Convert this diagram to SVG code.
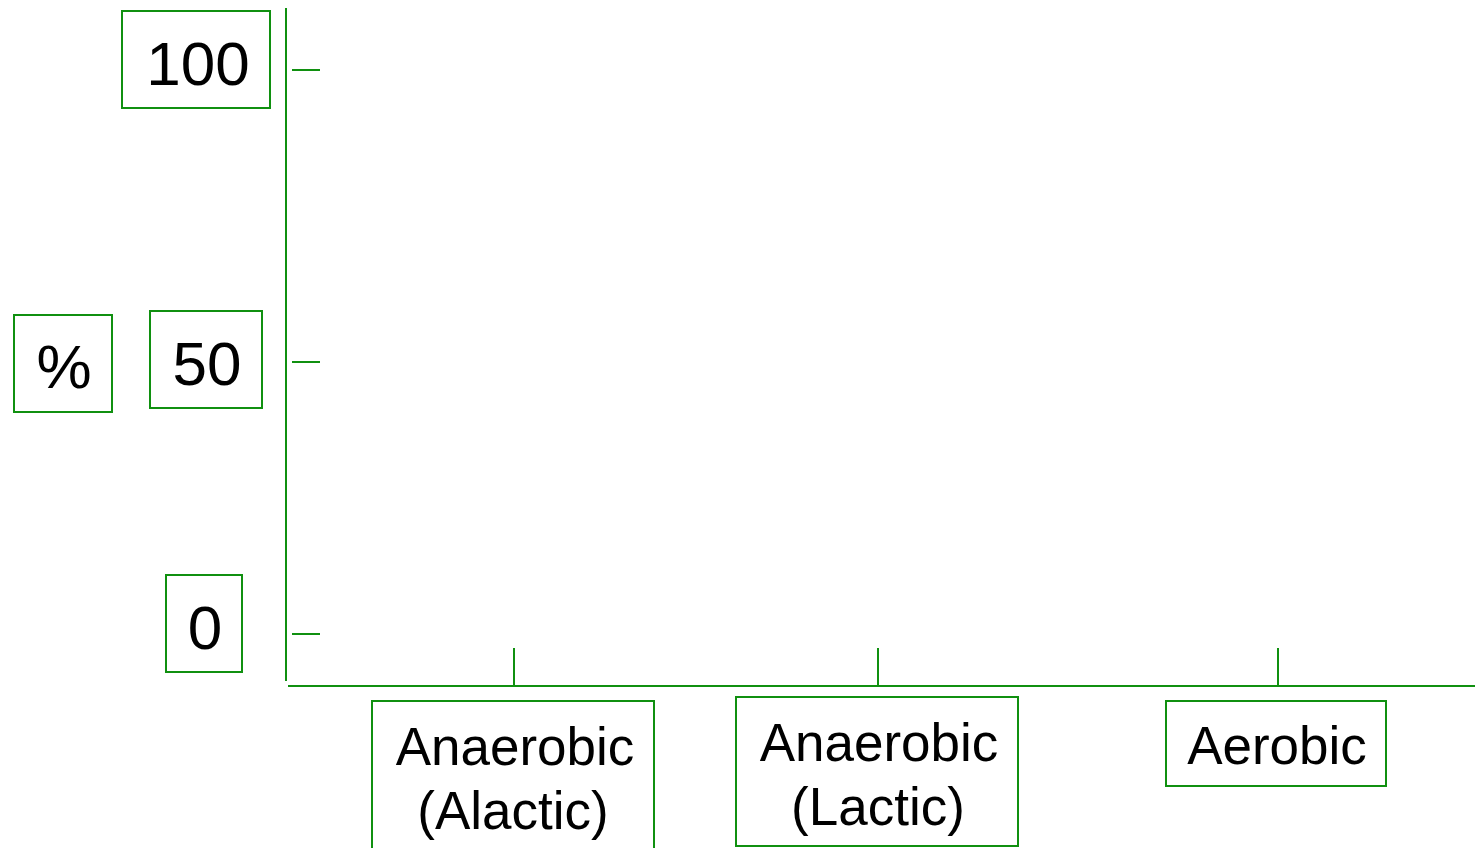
<svg xmlns="http://www.w3.org/2000/svg" width="1475" height="848" viewBox="0 0 1475 848">
<style>
.b{fill:#fff;stroke:#109010;stroke-width:2}
.l{stroke:#109010;stroke-width:2;fill:none}
text{font-family:"Liberation Sans",Arial,sans-serif;fill:#000;text-anchor:middle}
.n{font-size:62px}
.t{font-size:53px}
</style>
<rect width="1475" height="848" fill="#fff"/>
<g id="axes">
<line class="l" x1="286" y1="8" x2="286" y2="681"/>
<line class="l" x1="288" y1="686" x2="1475" y2="686"/>
<line class="l" x1="292" y1="70" x2="320" y2="70"/>
<line class="l" x1="292" y1="362" x2="320" y2="362"/>
<line class="l" x1="292" y1="634" x2="320" y2="634"/>
<line class="l" x1="514" y1="648" x2="514" y2="686"/>
<line class="l" x1="878" y1="648" x2="878" y2="686"/>
<line class="l" x1="1278" y1="648" x2="1278" y2="686"/>
</g>
<g id="n100"><rect class="b" x="122" y="11" width="148" height="97"/><text class="n" x="198" y="85">100</text></g>
<g id="n50"><rect class="b" x="150" y="311" width="112" height="97"/><text class="n" x="207" y="385">50</text></g>
<g id="npct"><rect class="b" x="14" y="315" width="98" height="97"/><text class="n" x="64" y="388">%</text></g>
<g id="n0"><rect class="b" x="166" y="575" width="76" height="97"/><text class="n" x="205" y="649">0</text></g>
<g id="alactic"><rect class="b" x="372" y="701" width="282" height="160"/><text class="t" x="515" y="765">Anaerobic</text><text class="t" x="513" y="829">(Alactic)</text></g>
<g id="lactic"><rect class="b" x="736" y="697" width="282" height="149"/><text class="t" x="879" y="761">Anaerobic</text><text class="t" x="878" y="825">(Lactic)</text></g>
<g id="aerobic"><rect class="b" x="1166" y="701" width="220" height="85"/><text class="t" x="1277" y="764">Aerobic</text></g>
</svg>
